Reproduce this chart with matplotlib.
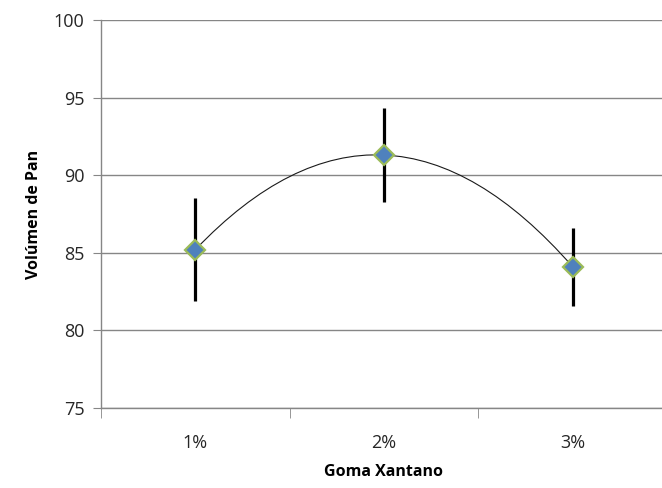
import numpy as np
import matplotlib.pyplot as plt
from matplotlib.path import Path
from matplotlib.patches import PathPatch

plt.rcParams['font.family'] = ['Open Sans', 'DejaVu Sans']

categories = ['1%', '2%', '3%']
volumen = [85.2, 91.3, 84.1]
error = [3.3, 3.0, 2.5]

grid_color = '#868686'

fig = plt.figure(figsize=(6.62, 4.88), dpi=100)
ax = fig.add_axes([101 / 662, 1 - 408 / 488, 566 / 662, 388 / 488])

x = np.arange(1, len(categories) + 1)
y = np.array(volumen)

# smoothed line like Excel: cubic Hermite / Bezier segments through the points
pts = np.column_stack([x, y]).astype(float)
n = len(pts)
tang = np.zeros_like(pts)
for i in range(1, n - 1):
    tang[i] = (pts[i + 1] - pts[i - 1]) / 2
tang[0] = 2 * (pts[1] - pts[0]) - tang[1]
tang[-1] = 2 * (pts[-1] - pts[-2]) - tang[-2]

verts = [tuple(pts[0])]
codes = [Path.MOVETO]
for i in range(n - 1):
    c1 = pts[i] + tang[i] / 3
    c2 = pts[i + 1] - tang[i + 1] / 3
    verts += [tuple(c1), tuple(c2), tuple(pts[i + 1])]
    codes += [Path.CURVE4] * 3
ax.add_patch(PathPatch(Path(verts, codes), facecolor='none',
                       edgecolor='#1a1a1a', lw=0.8, zorder=3))

ax.errorbar(x, y, yerr=error, fmt='none', ecolor='black', elinewidth=2.3,
            capsize=0, zorder=4)
ax.plot(x, y, linestyle='none', marker='D', markersize=10,
        markerfacecolor='#4F81BD', markeredgecolor='#9BBB59',
        markeredgewidth=1.6, zorder=5)

ax.set_xlim(0.5, 3.5)
ax.set_ylim(75, 100)
ax.set_yticks([75, 80, 85, 90, 95, 100])
ax.set_xticks(x)
ax.set_xticklabels(categories)
ax.set_xticks([0.5, 1.5, 2.5, 3.5], minor=True)
ax.tick_params(axis='x', which='major', length=0, pad=19, labelsize=13,
               labelcolor='#262626')
ax.tick_params(axis='x', which='minor', length=7, color=grid_color, direction='out')
ax.tick_params(axis='y', length=6, color=grid_color, direction='out', pad=6,
               labelsize=13, labelcolor='#262626')

ax.grid(axis='y', color=grid_color, lw=1)
ax.set_axisbelow(True)
for side in ['top', 'right']:
    ax.spines[side].set_visible(False)
for side in ['left', 'bottom']:
    ax.spines[side].set_color(grid_color)
    ax.spines[side].set_linewidth(1)

ax.set_ylabel('Volúmen de Pan', fontsize=11.5, fontweight='bold', labelpad=8)
ax.set_xlabel('Goma Xantano', fontsize=11.5, fontweight='bold', labelpad=8)

fig.savefig('out.png', dpi=100)
